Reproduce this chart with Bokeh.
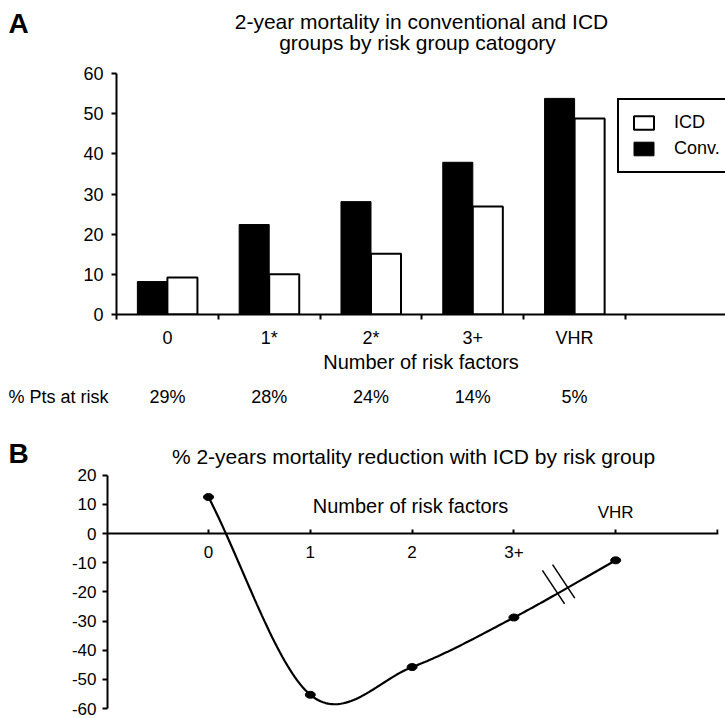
import numpy as np
from bokeh.plotting import figure
from bokeh.models import (FixedTicker, Label, LabelSet, ColumnDataSource, Legend,
                          LegendItem, LinearAxis, Range1d)
from bokeh.layouts import column, row
from bokeh.embed import file_html
from bokeh.resources import INLINE
from bokeh.core.properties import value

# ---------------- data ----------------
# Panel A
risk_groups = ["0", "1*", "2*", "3+", "VHR"]
conv_mortality = [8.2, 22.4, 28.1, 37.9, 53.8]
icd_mortality = [9.2, 10.0, 15.1, 26.9, 48.8]
pts_at_risk = ["29%", "28%", "24%", "14%", "5%"]
a_yticks = [0, 10, 20, 30, 40, 50, 60]

# Panel B
b_positions = [0, 1, 2, 3, 4]
b_labels = ["0", "1", "2", "3+", "VHR"]
mortality_reduction = [12.5, -55.3, -45.8, -28.8, -9.2]
b_yticks = [-60, -50, -40, -30, -20, -10, 0, 10, 20]
b_ytick_labels = ["-60", "-50", "-40", "-30", "-20", "-10", "0", "10", "20"]
break_positions = [3.44, 3.54]

FONT = "Liberation Sans"
INK = "black"
W = 725


def strip(w, h, xr=None):
    f = figure(width=w, height=h, x_range=xr if xr is not None else Range1d(0, w),
               y_range=Range1d(h, 0), x_axis_location=None, y_axis_location=None,
               min_border=0, min_border_left=0, min_border_right=0, min_border_top=0,
               min_border_bottom=0, frame_align=False,
               output_backend="svg", toolbar_location=None)
    f.title.visible = False
    f.grid.visible = False
    f.outline_line_color = None
    return f


def label(**kw):
    return Label(text_font=FONT, text_color=INK, **kw)


# ---------------- panel A geometry ----------------
A_LEFT, A_CAT = 116, 101.8          # frame left (px), px per category


def ax_x(px):
    return (px - A_LEFT) / A_CAT


# ---- A title strip (page y 0..60)
pA_top = strip(W, 60)
pA_top.add_layout(label(x=8, y=22.5, text="A", text_font_size="28px",
                        text_font_style="bold", text_align="left", text_baseline="middle"))
pA_top.add_layout(label(x=421, y=20.5, text="2-year mortality in conventional and ICD",
                        text_font_size="21px", text_align="center", text_baseline="middle"))
pA_top.add_layout(label(x=417, y=41.5, text="groups by risk group catogory",
                        text_font_size="21px", text_align="center", text_baseline="middle"))

# ---- A main chart (page y 60..378)
n = len(risk_groups)
centers = np.arange(n) + 0.5
boundaries = list(np.arange(n + 1).astype(float))
bar_w = 0.295
off = bar_w / 2

pA = figure(width=W, height=318, x_range=Range1d(0, ax_x(W)), y_range=Range1d(0, 60),
            output_backend="svg", toolbar_location=None, frame_align=False,
            min_border_left=A_LEFT, min_border_right=0, min_border_top=13, min_border_bottom=64)
pA.title.visible = False
pA.grid.visible = False
pA.outline_line_color = None

srcA = ColumnDataSource(dict(conv_x=centers - off, icd_x=centers + off,
                             conv=conv_mortality, icd=icd_mortality))
conv_r = pA.vbar(x="conv_x", top="conv", bottom=0, width=bar_w, source=srcA,
                 fill_color=INK, line_color=INK, line_width=1)
icd_r = pA.vbar(x="icd_x", top="icd", bottom=0, width=bar_w, source=srcA,
                fill_color="white", line_color=INK, line_width=2)

xa = pA.xaxis[0]
xa.ticker = FixedTicker(ticks=list(centers), minor_ticks=boundaries)
xa.major_label_overrides = {float(c): g for c, g in zip(centers, risk_groups)}
xa.major_tick_out = 0
xa.major_tick_in = 0
xa.minor_tick_out = 5
xa.minor_tick_in = 0
xa.minor_tick_line_width = 2
xa.minor_tick_line_color = INK
xa.axis_line_width = 2
xa.axis_line_color = INK
xa.major_label_text_font = FONT
xa.major_label_text_font_size = "18px"
xa.major_label_text_color = INK
xa.major_label_standoff = 8
xa.axis_label = "Number of risk factors"
xa.axis_label_text_font = FONT
xa.axis_label_text_font_size = "20px"
xa.axis_label_text_font_style = "normal"
xa.axis_label_text_color = INK
xa.axis_label_standoff = 0

ya = pA.yaxis[0]
ya.ticker = FixedTicker(ticks=a_yticks)
ya.major_tick_out = 5
ya.major_tick_in = 0
ya.major_tick_line_width = 2
ya.major_tick_line_color = INK
ya.minor_tick_out = 0
ya.minor_tick_in = 0
ya.axis_line_width = 2
ya.axis_line_color = INK
ya.major_label_text_font = FONT
ya.major_label_text_font_size = "18px"
ya.major_label_text_color = INK
ya.major_label_standoff = 8

legend = Legend(items=[LegendItem(label="ICD", renderers=[icd_r]),
                       LegendItem(label="Conv.", renderers=[conv_r])],
                location=(501, 141), glyph_width=25, glyph_height=17, label_standoff=18,
                spacing=5, padding=12, margin=0, border_line_color=INK,
                border_line_width=2, border_line_alpha=1.0,
                background_fill_color="white", background_fill_alpha=1,
                label_text_font=FONT, label_text_font_size="18px", label_text_color=INK,
                label_height=20)
pA.add_layout(legend)

# ---- A "% Pts at risk" strip (page y 378..410)
pA_pct = strip(W, 32, xr=Range1d(ax_x(0), ax_x(W)))
pA_pct.add_layout(label(x=ax_x(8), y=18, text="% Pts at risk", text_font_size="18px",
                        text_align="left", text_baseline="middle"))
pct_src = ColumnDataSource(dict(x=centers, text=pts_at_risk))
pA_pct.add_layout(LabelSet(x="x", y=24, text="text", source=pct_src,
                           text_font=value(FONT), text_font_size=value("18px"),
                           text_color=INK, text_align="center", text_baseline="alphabetic"))

# ---------------- panel B (page y 410..718) ----------------
B_TOP, B_H = 410, 308
B_ZERO_X, B_CAT = 208, 101.8
B_ZERO_Y, B_BOTTOM = 533, 708
B_UNIT = (B_BOTTOM - B_ZERO_Y) / 60.0


def bx(px):
    return (px - B_ZERO_X) / B_CAT


def by(py):
    return (B_ZERO_Y - py) / B_UNIT


pB_letter = strip(60, B_H)
pB_letter.add_layout(label(x=8, y=453 - B_TOP, text="B", text_font_size="28px",
                           text_font_style="bold", text_align="left", text_baseline="middle"))

frame_top = 440
pB = figure(width=W - 60, height=B_H, x_range=Range1d(bx(107), bx(718)),
            y_range=Range1d(-60, by(frame_top)),
            output_backend="svg", toolbar_location=None, x_axis_location=None,
            frame_align=False,
            min_border_left=107 - 60, min_border_right=W - 718,
            min_border_top=frame_top - B_TOP, min_border_bottom=B_TOP + B_H - B_BOTTOM)
pB.title.visible = False
pB.grid.visible = False
pB.outline_line_color = None

yb = pB.yaxis[0]
yb.ticker = FixedTicker(ticks=b_yticks)
yb.bounds = (min(b_yticks), max(b_yticks))
yb.major_label_overrides = {v: t for v, t in zip(b_yticks, b_ytick_labels)}
yb.major_tick_out = 5
yb.major_tick_in = 0
yb.major_tick_line_width = 2
yb.major_tick_line_color = INK
yb.minor_tick_out = 0
yb.minor_tick_in = 0
yb.axis_line_width = 2
yb.axis_line_color = INK
yb.major_label_text_font = FONT
yb.major_label_text_font_size = "17px"
yb.major_label_text_color = INK
yb.major_label_standoff = 6

xb = LinearAxis(fixed_location=0,
                ticker=FixedTicker(ticks=[float(v) for v in b_positions] + [5.0]),
                major_tick_out=4, major_tick_in=0, major_tick_line_width=2,
                major_tick_line_color=INK, minor_tick_out=0, minor_tick_in=0,
                axis_line_width=2, axis_line_color=INK,
                major_label_text_font_size="1px", major_label_text_color=None,
                major_label_standoff=0)
pB.add_layout(xb, "above")


# smooth curve through the data points (Catmull-Rom / Hermite)
def smooth(xs, ys, steps=40):
    xs = np.asarray(xs, float)
    ys = np.asarray(ys, float)
    m = np.gradient(ys, xs)
    out_x, out_y = [], []
    for i in range(len(xs) - 1):
        t = np.linspace(0, 1, steps, endpoint=(i == len(xs) - 2))
        h = xs[i + 1] - xs[i]
        h00 = 2 * t**3 - 3 * t**2 + 1
        h10 = t**3 - 2 * t**2 + t
        h01 = -2 * t**3 + 3 * t**2
        h11 = t**3 - t**2
        out_x.extend(xs[i] + t * h)
        out_y.extend(h00 * ys[i] + h10 * h * m[i] + h01 * ys[i + 1] + h11 * h * m[i + 1])
    return np.array(out_x), np.array(out_y)


cx, cy = smooth(b_positions, mortality_reduction)
pB.line(cx, cy, line_color=INK, line_width=2.2)
pB.ellipse(x=b_positions, y=mortality_reduction, width=10, height=7,
           width_units="screen", height_units="screen", fill_color=INK, line_color=INK)

# break marks "//" on the curve between 3+ and VHR
bk_y = np.interp(break_positions, cx, cy)
bk_x = np.array(break_positions)
pB.segment(x0=bk_x - 0.16, y0=bk_y + 7.7, x1=bk_x + 0.058, y1=bk_y - 3.8,
           line_color=INK, line_width=1.5)

pB.add_layout(label(x=bx(413), y=by(456),
                    text="% 2-years mortality reduction with ICD by risk group",
                    text_font_size="21px", text_align="center", text_baseline="middle"))
pB.add_layout(label(x=bx(410), y=by(505), text="Number of risk factors",
                    text_font_size="20px", text_align="center", text_baseline="middle"))
below_src = ColumnDataSource(dict(x=b_positions[:-1], text=b_labels[:-1]))
pB.add_layout(LabelSet(x="x", y=by(557), text="text", source=below_src,
                       text_font=value(FONT), text_font_size=value("17px"), text_color=INK,
                       text_align="center", text_baseline="alphabetic"))
above_src = ColumnDataSource(dict(x=b_positions[-1:], text=b_labels[-1:]))
pB.add_layout(LabelSet(x="x", y=by(517), text="text", source=above_src,
                       text_font=value(FONT), text_font_size=value("17px"), text_color=INK,
                       text_align="center", text_baseline="alphabetic"))

layout = column(pA_top, pA, pA_pct, row(pB_letter, pB, spacing=0), spacing=0)
open("out.html", "w").write(file_html(layout, INLINE))
